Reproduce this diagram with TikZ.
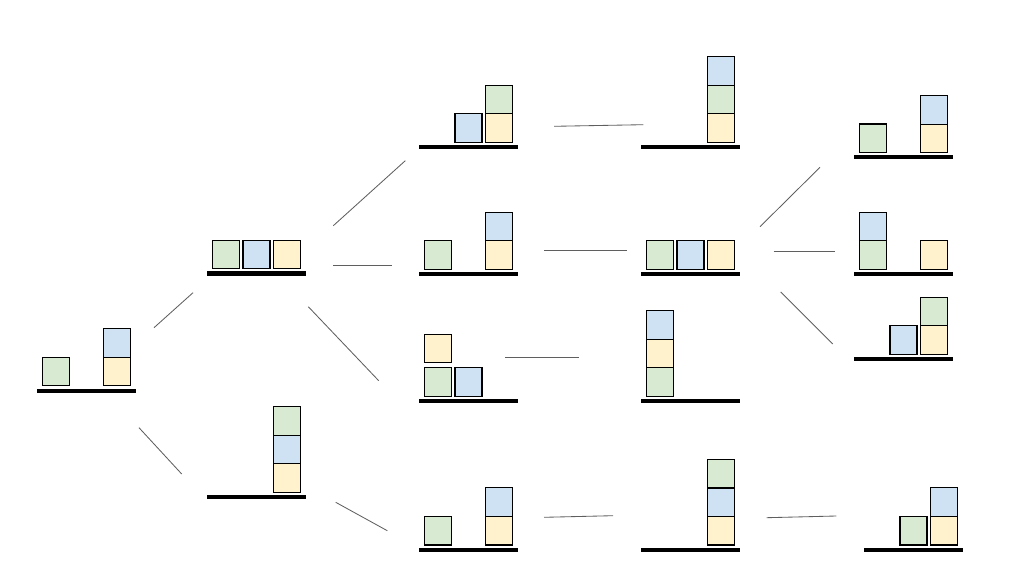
\documentclass[tikz,border=0pt]{standalone}
\definecolor{bgreen}{HTML}{D9EAD3}
\definecolor{bblue}{HTML}{CFE2F3}
\definecolor{byellow}{HTML}{FFF2CC}
\definecolor{linkgray}{HTML}{5F5F5F}
\begin{document}
\begin{tikzpicture}[x=0.025cm, y=-0.025cm,
        blk/.style={draw, line width=0.8pt, inner sep=0pt, minimum width=0.675cm, minimum height=0.715cm},
        floor/.style={line width=0.1cm},
        link/.style={linkgray, line width=0.6pt}]
    \useasboundingbox (0,0) rectangle (1018,583);
    \begin{scope}[shift={(37,390.5)}]
        \draw[floor] (0,0)--(98.5,0);
        \node[blk, fill=bgreen] (s1g) at (19,-19) {};
        \node[blk, fill=byellow] (s1y) at (80,-19) {};
        \node[blk, fill=bblue] (s1b) at (80,-47.5) {};
    \end{scope}
    \begin{scope}[shift={(207,273.5)}]
        \draw[floor] (0,0)--(98.5,0);
        \node[blk, fill=bgreen] (s2g) at (19,-19) {};
        \node[blk, fill=bblue] (s2b) at (49.5,-19) {};
        \node[blk, fill=byellow] (s2y) at (80,-19) {};
    \end{scope}
    \begin{scope}[shift={(207,497)}]
        \draw[floor] (0,0)--(98.5,0);
        \node[blk, fill=byellow] (s3y) at (80,-19) {};
        \node[blk, fill=bblue] (s3b) at (80,-47.5) {};
        \node[blk, fill=bgreen] (s3g) at (80,-76) {};
    \end{scope}
    \begin{scope}[shift={(419,147)}]
        \draw[floor] (0,0)--(98.5,0);
        \node[blk, fill=bblue] (a1b) at (49.5,-19) {};
        \node[blk, fill=byellow] (a1y) at (80,-19) {};
        \node[blk, fill=bgreen] (a1g) at (80,-47.5) {};
    \end{scope}
    \begin{scope}[shift={(419,274)}]
        \draw[floor] (0,0)--(98.5,0);
        \node[blk, fill=bgreen] (a2g) at (19,-19) {};
        \node[blk, fill=byellow] (a2y) at (80,-19) {};
        \node[blk, fill=bblue] (a2b) at (80,-47.5) {};
    \end{scope}
    \begin{scope}[shift={(419,401)}]
        \draw[floor] (0,0)--(98.5,0);
        \node[blk, fill=bgreen] (a3g) at (19,-19) {};
        \node[blk, fill=bblue] (a3b) at (49.5,-19) {};
        \node[blk, fill=byellow] (a3y) at (19,-52.5) {};
    \end{scope}
    \begin{scope}[shift={(419,549.7)}]
        \draw[floor] (0,0)--(98.5,0);
        \node[blk, fill=bgreen] (a4g) at (19,-19) {};
        \node[blk, fill=byellow] (a4y) at (80,-19) {};
        \node[blk, fill=bblue] (a4b) at (80,-47.5) {};
    \end{scope}
    \begin{scope}[shift={(641,147)}]
        \draw[floor] (0,0)--(98.5,0);
        \node[blk, fill=byellow] (b1y) at (80,-19) {};
        \node[blk, fill=bgreen] (b1g) at (80,-47.5) {};
        \node[blk, fill=bblue] (b1b) at (80,-76) {};
    \end{scope}
    \begin{scope}[shift={(641,274)}]
        \draw[floor] (0,0)--(98.5,0);
        \node[blk, fill=bgreen] (b2g) at (19,-19) {};
        \node[blk, fill=bblue] (b2b) at (49.5,-19) {};
        \node[blk, fill=byellow] (b2y) at (80,-19) {};
    \end{scope}
    \begin{scope}[shift={(641,401)}]
        \draw[floor] (0,0)--(98.5,0);
        \node[blk, fill=bgreen] (b3g) at (19,-19) {};
        \node[blk, fill=byellow] (b3y) at (19,-47.5) {};
        \node[blk, fill=bblue] (b3b) at (19,-76) {};
    \end{scope}
    \begin{scope}[shift={(641,549.7)}]
        \draw[floor] (0,0)--(98.5,0);
        \node[blk, fill=byellow] (b4y) at (80,-19) {};
        \node[blk, fill=bblue] (b4b) at (80,-47.5) {};
        \node[blk, fill=bgreen] (b4g) at (80,-76) {};
    \end{scope}
    \begin{scope}[shift={(854,157.3)}]
        \draw[floor] (0,0)--(98.5,0);
        \node[blk, fill=bgreen] (c1g) at (19,-19) {};
        \node[blk, fill=byellow] (c1y) at (80,-19) {};
        \node[blk, fill=bblue] (c1b) at (80,-47.5) {};
    \end{scope}
    \begin{scope}[shift={(854,274)}]
        \draw[floor] (0,0)--(98.5,0);
        \node[blk, fill=bgreen] (c2g) at (19,-19) {};
        \node[blk, fill=bblue] (c2b) at (19,-47.5) {};
        \node[blk, fill=byellow] (c2y) at (80,-19) {};
    \end{scope}
    \begin{scope}[shift={(854,359)}]
        \draw[floor] (0,0)--(98.5,0);
        \node[blk, fill=bblue] (c3b) at (49.5,-19) {};
        \node[blk, fill=byellow] (c3y) at (80,-19) {};
        \node[blk, fill=bgreen] (c3g) at (80,-47.5) {};
    \end{scope}
    \begin{scope}[shift={(864,549.7)}]
        \draw[floor] (0,0)--(98.5,0);
        \node[blk, fill=bgreen] (c4g) at (49.5,-19) {};
        \node[blk, fill=byellow] (c4y) at (80,-19) {};
        \node[blk, fill=bblue] (c4b) at (80,-47.5) {};
    \end{scope}
    \coordinate (k1a) at (154,327.7); \coordinate (k1b) at (193,292.7);
    \coordinate (k2a) at (139,427.7); \coordinate (k2b) at (181.7,474);
    \coordinate (k3a) at (333.3,225.7); \coordinate (k3b) at (405.3,160.7);
    \coordinate (k4a) at (333.3,265); \coordinate (k4b) at (392,265);
    \coordinate (k5a) at (308.3,306.7); \coordinate (k5b) at (378.7,380.7);
    \coordinate (k6a) at (335.7,502.3); \coordinate (k6b) at (387.3,530.7);
    \coordinate (k7a) at (554,126.3); \coordinate (k7b) at (643.3,124.7);
    \coordinate (k8a) at (544.3,250.7); \coordinate (k8b) at (626.7,250.7);
    \coordinate (k9a) at (505,357.7); \coordinate (k9b) at (578.7,357.7);
    \coordinate (k10a) at (544,517.3); \coordinate (k10b) at (613,515.7);
    \coordinate (k11a) at (760,226.7); \coordinate (k11b) at (820,167.3);
    \coordinate (k12a) at (773.7,251); \coordinate (k12b) at (835.3,251);
    \coordinate (k13a) at (780.7,292); \coordinate (k13b) at (832.7,344);
    \coordinate (k14a) at (766.7,517.7); \coordinate (k14b) at (836.3,516);
    \draw[link] (k1a)--(k1b);
    \draw[link] (k2a)--(k2b);
    \draw[link] (k3a)--(k3b);
    \draw[link] (k4a)--(k4b);
    \draw[link] (k5a)--(k5b);
    \draw[link] (k6a)--(k6b);
    \draw[link] (k7a)--(k7b);
    \draw[link] (k8a)--(k8b);
    \draw[link] (k9a)--(k9b);
    \draw[link] (k10a)--(k10b);
    \draw[link] (k11a)--(k11b);
    \draw[link] (k12a)--(k12b);
    \draw[link] (k13a)--(k13b);
    \draw[link] (k14a)--(k14b);
\end{tikzpicture}
\end{document}
